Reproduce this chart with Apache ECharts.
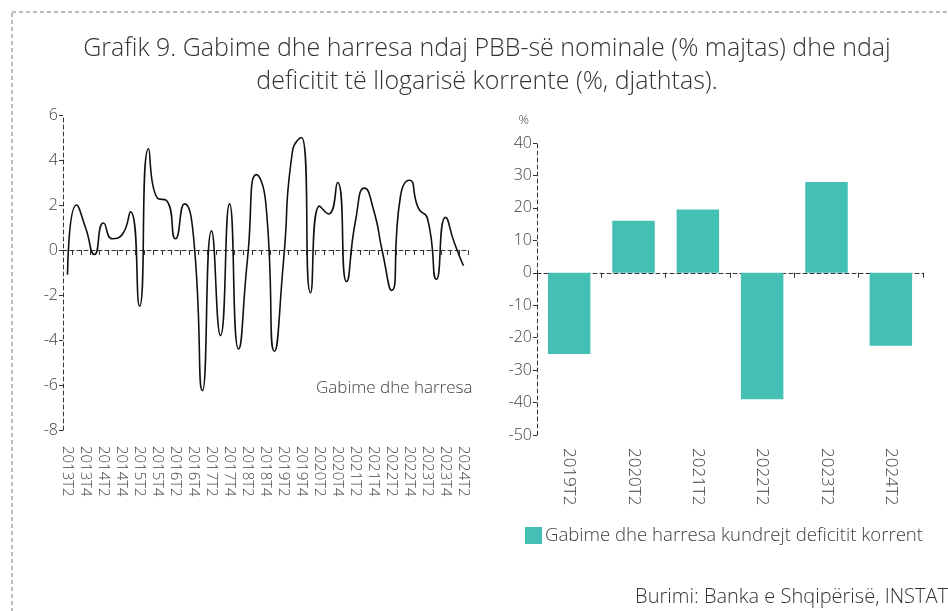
<!DOCTYPE html>
<html>
<head>
<meta charset="utf-8">
<title>Grafik 9</title>
<script src="https://cdn.jsdelivr.net/npm/echarts@6/dist/echarts.min.js"></script>
<style>
  html, body { margin: 0; padding: 0; background: #fff; }
  #chart { width: 948px; height: 611px; }
</style>
</head>
<body>
<div id="chart"></div>
<script>
// tremujoret 2013T2 - 2024T2
var quarters = [];
for (var y = 2013; y <= 2024; y++) {
  for (var q = 1; q <= 4; q++) {
    if ((y === 2013 && q < 2) || (y === 2024 && q > 2)) continue;
    quarters.push(y + 'T' + q);
  }
}
// gabime dhe harresa, % e PBB nominale
var errorsGdp = [
  -1.1, 2.0, 1.0, -0.2, 1.2, 0.5, 0.65, 1.7, -2.5, 4.5,
  2.3, 2.2, 0.5, 2.05, 0.6, -6.25, 0.85, -3.8, 2.05, -4.4,
  -0.4, 3.35, 2.2, -4.5, -0.5, 4.4, 5.0, -1.9, 1.95, 1.6,
  3.0, -1.4, 1.3, 2.75, 1.8, -0.1, -1.8, 2.4, 3.1, 1.85,
  1.4, -1.3, 1.45, 0.3, -0.7
];
var years = ['2019T2', '2020T2', '2021T2', '2022T2', '2023T2', '2024T2'];
// gabime dhe harresa, % e deficitit te llogarise korrente
var errorsDeficit = [-25, 16, 19.5, -39, 28, -22.5];

var lineName = 'Gabime dhe harresa';
var barName = 'Gabime dhe harresa kundrejt deficitit korrent';
var font = 'Open Sans';
var txt = '#404040';

var chart = echarts.init(document.getElementById('chart'));

var dashLine = { color: '#333', width: 1, type: [4, 3] };

chart.setOption({
  animation: false,
  textStyle: { fontFamily: font, fontWeight: 300 },
  title: {
    text: 'Grafik 9. Gabime dhe harresa ndaj PBB-së nominale (% majtas) dhe ndaj\ndeficitit të llogarisë korrente (%, djathtas).',
    left: 482,
    top: 27,
    textAlign: 'center',
    textStyle: { fontFamily: font, fontSize: 25, fontWeight: 300, color: '#333', lineHeight: 33 }
  },
  legend: [
    {
      data: [lineName],
      icon: 'none',
      itemWidth: 0,
      itemGap: 0,
      left: 306,
      top: 375,
      textStyle: { fontFamily: font, fontWeight: 300, fontSize: 17, color: txt }
    },
    {
      data: [barName],
      icon: 'rect',
      itemWidth: 17,
      itemHeight: 17,
      left: 520,
      top: 521,
      textStyle: { fontFamily: font, fontWeight: 300, fontSize: 18.6, color: txt, padding: [0, 0, 0, -2] }
    }
  ],
  graphic: [
    {
      type: 'rect',
      shape: { x: 12, y: 12, width: 1000, height: 700 },
      style: { fill: 'none', stroke: '#777', lineWidth: 1, lineDash: [4, 3] },
      silent: true
    },
    {
      type: 'text',
      right: 0,
      top: 587,
      style: { text: 'Burimi: Banka e Shqipërisë, INSTAT', fontFamily: font, fontWeight: 300, fontSize: 20, fill: '#333' }
    }
  ],
  grid: [
    { left: 63, top: 115, width: 405, height: 315 },
    { left: 537, top: 143, width: 386, height: 292 }
  ],
  xAxis: [
    {
      type: 'category', gridIndex: 0, data: quarters, position: 'bottom',
      axisLine: { show: false, onZero: false }, axisTick: { show: false },
      axisLabel: { interval: 1, rotate: -90, margin: 16, color: txt, fontSize: 15, fontWeight: 300 }
    },
    {
      type: 'category', gridIndex: 1, data: years, position: 'bottom',
      axisLine: { show: false, onZero: false }, axisTick: { show: false },
      axisLabel: { interval: 0, rotate: -90, margin: 13, color: txt, fontSize: 17, fontWeight: 300 }
    },
    {
      type: 'category', gridIndex: 0, data: quarters, position: 'top',
      axisLine: { show: true, onZero: true, lineStyle: dashLine },
      axisTick: { show: true, inside: true, interval: 0, length: 5, lineStyle: { color: '#333' } },
      axisLabel: { show: false }
    },
    {
      type: 'category', gridIndex: 1, data: years, position: 'top',
      axisLine: { show: true, onZero: true, lineStyle: dashLine },
      axisTick: { show: true, inside: true, interval: 0, length: 5, lineStyle: { color: '#333' } },
      axisLabel: { show: false }
    }
  ],
  yAxis: [
    {
      type: 'value', gridIndex: 0, min: -8, max: 6, interval: 2,
      axisLine: { show: true, lineStyle: dashLine },
      axisTick: { show: true, length: 4, lineStyle: { color: '#333' } },
      axisLabel: { color: txt, fontSize: 16, fontWeight: 300, margin: 5 },
      splitLine: { show: false }
    },
    {
      type: 'value', gridIndex: 1, min: -50, max: 40, interval: 10,
      name: '%', nameLocation: 'end', nameGap: 16,
      nameTextStyle: { color: txt, fontSize: 13, fontWeight: 300, align: 'right', padding: [0, 8, 0, 0] },
      axisLine: { show: true, lineStyle: dashLine },
      axisTick: { show: true, length: 4, lineStyle: { color: '#333' } },
      axisLabel: { color: txt, fontSize: 16, fontWeight: 300, margin: 5 },
      splitLine: { show: false }
    }
  ],
  series: [
    {
      name: lineName,
      type: 'line',
      xAxisIndex: 0,
      yAxisIndex: 0,
      data: errorsGdp,
      smooth: 0.6,
      showSymbol: false,
      lineStyle: { color: '#111', width: 1.6 },
      itemStyle: { color: '#111' },
      z: 3
    },
    {
      name: barName,
      type: 'bar',
      xAxisIndex: 1,
      yAxisIndex: 1,
      data: errorsDeficit,
      barCategoryGap: '34%',
      itemStyle: { color: '#44BFB4' },
      z: 1
    }
  ]
});
</script>
</body>
</html>
